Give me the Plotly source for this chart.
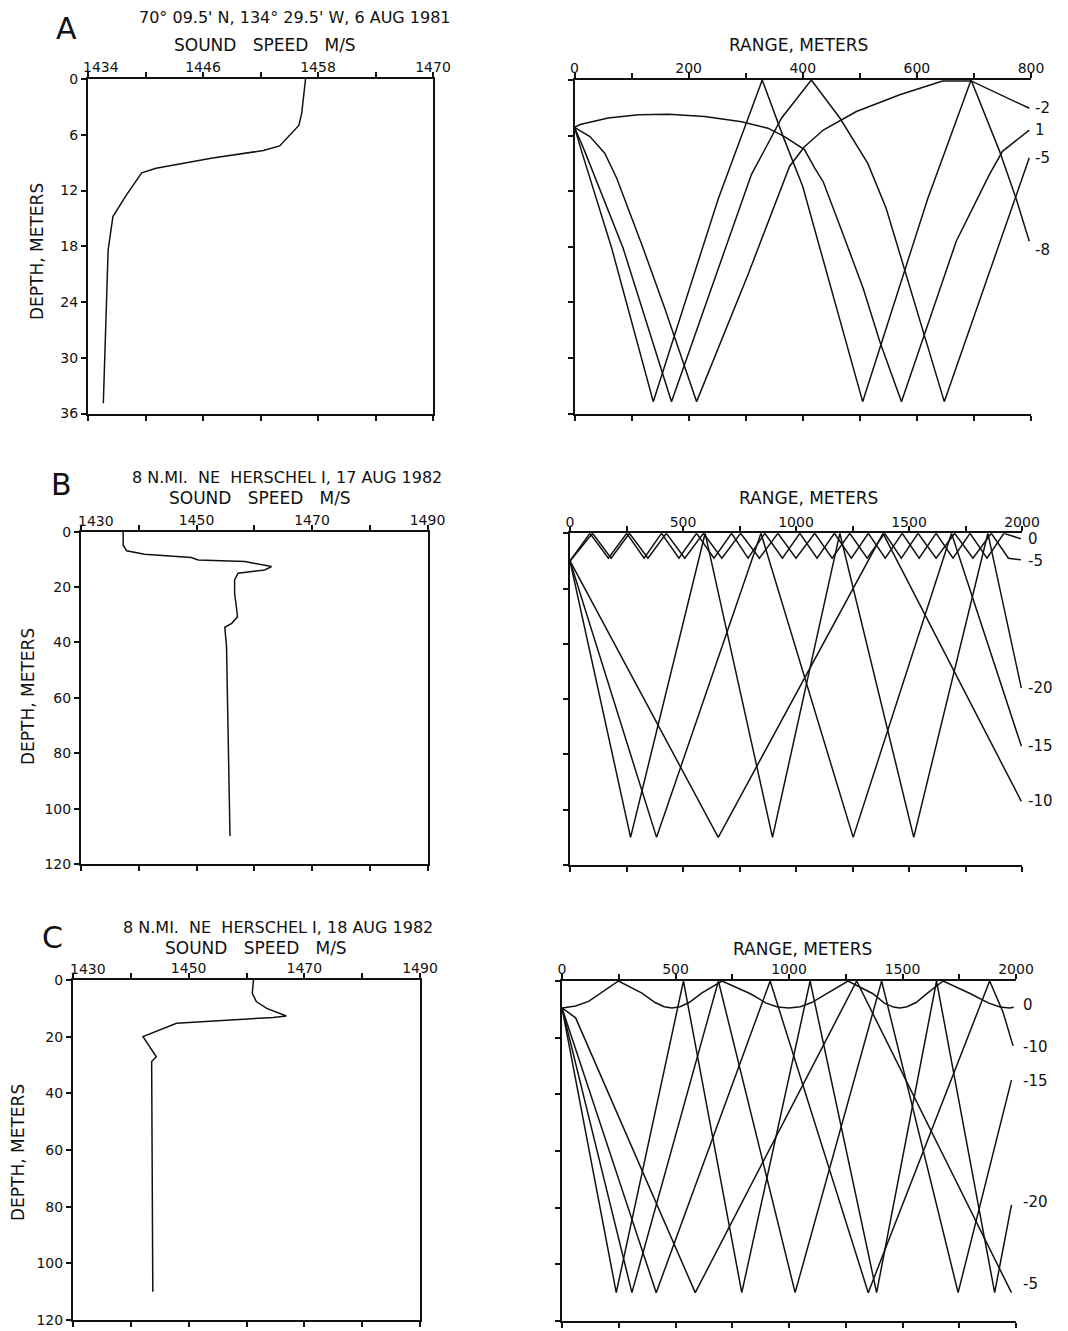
import plotly.graph_objects as go

W, H = 1068, 1331

# ---------------- Panel A : 70 09.5'N, 6 AUG 1981 ----------------
A_speed = [1456.7, 1456.3, 1456.0, 1454.0, 1452.3, 1447.0, 1441.1, 1439.6, 1438.0, 1436.6, 1436.1, 1435.6]
A_depth = [0, 3.7, 5.0, 7.2, 7.7, 8.5, 9.6, 10.1, 12.5, 14.8, 18.4, 34.9]
A_speed_ticks = [1434, 1440, 1446, 1452, 1458, 1464, 1470]
A_speed_text = ["", "", "1446", "", "1458", "", "1470"]
A_first_label = "1434"
A_depth_ticks = [0, 6, 12, 18, 24, 30, 36]
A_range_ticks = [0, 100, 200, 300, 400, 500, 600, 700, 800]
A_range_text = ["0", "", "200", "", "400", "", "600", "", "800"]

A_ray_p1_x = [0, 10, 59, 112, 165, 228, 293, 339, 368, 403, 421, 436, 471, 506, 535, 573, 669, 727, 750, 797]
A_ray_p1_d = [5.1, 4.8, 4.1, 3.76, 3.69, 3.95, 4.5, 5.2, 6.1, 7.5, 9.5, 11.0, 16.7, 22.5, 28.2, 34.7, 17.4, 10.2, 7.7, 5.4]
A_ray_m2_x = [0, 27, 53, 74, 120, 158, 214, 304, 377, 403, 436, 494, 570, 645, 695, 797]
A_ray_m2_d = [5.1, 6.1, 7.9, 10.6, 18.1, 24.6, 34.7, 21.0, 9.3, 7.2, 5.4, 3.4, 1.6, 0.1, 0.1, 3.05]
A_ray_m5_x = [0, 18, 85, 118, 170, 310, 363, 415, 465, 514, 546, 648, 797]
A_ray_m5_d = [5.1, 7.7, 18.1, 24.6, 34.7, 10.2, 4.1, 0, 4.1, 9.0, 13.8, 34.7, 8.4]
A_ray_m8_x = [0, 12.5, 65, 94, 138, 252, 293, 329, 365, 400, 505, 619, 660, 695, 745, 774, 797]
A_ray_m8_d = [5.1, 7.7, 18.1, 24.6, 34.7, 12.8, 5.9, 0, 6.0, 11.5, 34.7, 12.8, 5.9, 0, 7.7, 12.8, 17.4]
A_labels = ["-2", "1", "-5", "-8"]
A_label_depth = [3.0, 5.4, 8.4, 18.3]

# ---------------- Panel B : 17 AUG 1982 ----------------
B_speed = [1437.3, 1437.3, 1437.9, 1441.0, 1449.1, 1450.3, 1458.4, 1461.3, 1463.0, 1461.8, 1459.5,
           1457.2, 1456.6, 1456.6, 1456.9, 1457.1, 1456.1, 1454.9, 1455.2, 1455.8]
B_depth = [0, 4.8, 6.9, 8.1, 9.3, 10.2, 10.8, 12.0, 12.6, 13.8, 14.4,
           15.0, 17.4, 22.3, 27.1, 30.7, 33.1, 34.5, 41.5, 109.9]
SS_ticks = [1430, 1440, 1450, 1460, 1470, 1480, 1490]
SS_text = ["", "", "1450", "", "1470", "", "1490"]
SS_first_label = "1430"
D120_ticks = [0, 20, 40, 60, 80, 100, 120]
R2000_ticks = [0, 250, 500, 750, 1000, 1250, 1500, 1750, 2000]
R2000_text = ["0", "", "500", "", "1000", "", "1500", "", "2000"]

B_ray_0_x = [0, 88, 170, 251, 328, 405, 482, 560, 637, 715, 788, 862, 940, 1017, 1093, 1170,
             1245, 1320, 1395, 1470, 1545, 1620, 1695, 1770, 1845, 1920, 1995]
B_ray_0_d = [10, 0, 9, 0, 9, 0, 9, 0, 9, 0, 9, 0, 9, 0, 9, 0, 9, 0, 9, 0, 9, 0, 9, 0, 9, 0, 2]
B_ray_m5_x = [0, 100, 182, 263, 345, 426, 508, 590, 672, 755, 838, 920, 1000, 1083, 1160, 1238,
              1315, 1392, 1466, 1540, 1620, 1702, 1783, 1864, 1940, 1995]
B_ray_m5_d = [10, 0, 9, 0, 9, 0, 9, 0, 9, 0, 9, 0, 9, 0, 9, 0, 9, 0, 9, 0, 9, 0, 9, 0, 9, 9.6]
B_ray_m10_x = [0, 656, 1385, 1997]
B_ray_m10_d = [10, 110, 0, 97]
B_ray_m15_x = [0, 383, 845, 1253, 1688, 1997]
B_ray_m15_d = [10, 110, 0, 110, 0, 77]
B_ray_m20_x = [0, 268, 598, 896, 1194, 1521, 1849, 1997]
B_ray_m20_d = [10, 110, 0, 110, 0, 110, 0, 56]
B_labels = ["0", "-5", "-20", "-15", "-10"]
B_label_depth = [2.1, 10.0, 56, 77, 97]

# ---------------- Panel C : 18 AUG 1982 ----------------
C_speed = [1461.2, 1461.0, 1461.7, 1463.5, 1466.9, 1464.6, 1447.9, 1442.1, 1444.4, 1443.6, 1443.8]
C_depth = [0, 4.7, 7.6, 10.0, 12.7, 13.2, 15.3, 20.0, 27.1, 28.8, 110.0]

C_ray_0_x = [0, 60, 117, 185, 249, 352, 410, 450, 484, 520, 560, 615, 705, 830, 900, 950, 1000,
             1050, 1100, 1170, 1260, 1370, 1420, 1460, 1488, 1520, 1560, 1610, 1679, 1800, 1880, 1930, 1972, 1990]
C_ray_0_d = [9.5, 8.8, 7.2, 3.5, 0, 4.3, 7.6, 9.1, 9.5, 9.1, 7.6, 4.3, 0, 4.5, 7.8, 9.2, 9.5,
             9.1, 7.6, 4.3, 0, 4.5, 7.8, 9.2, 9.5, 9.1, 7.6, 4.3, 0, 4.5, 7.8, 9.2, 9.5, 9.3]
C_ray_m5_x = [0, 60, 587, 1298, 1980]
C_ray_m5_d = [9.5, 13, 110, 0, 110]
C_ray_m10_x = [0, 415, 917, 1349, 1884, 1943, 1987]
C_ray_m10_d = [9.5, 110, 0, 110, 0, 11, 22.9]
C_ray_m15_x = [0, 308, 689, 1027, 1408, 1745, 1980]
C_ray_m15_d = [9.5, 110, 0, 110, 0, 110, 35]
C_ray_m20_x = [0, 239, 535, 792, 1093, 1386, 1650, 1906, 1980]
C_ray_m20_d = [9.5, 110, 0, 110, 0, 110, 0, 110, 79]
C_labels = ["0", "-10", "-15", "-20", "-5"]
C_label_depth = [8.3, 23.4, 35.3, 78, 107]

# ---------------- layout (pixel boxes) ----------------
FONT = "DejaVu Sans"
BLACK = "#111111"

boxes = {
    1: ((88, 433), (79, 413.5)),
    2: ((574.5, 1031), (80, 413.7)),
    3: ((81, 427.5), (531.7, 864)),
    4: ((570, 1022), (533.3, 865)),
    5: ((73, 420), (980, 1320)),
    6: ((562, 1016), (981, 1321)),
}
xspec = {
    1: ([1434, 1470], A_speed_ticks, A_speed_text),
    2: ([0, 800], A_range_ticks, A_range_text),
    3: ([1430, 1490], SS_ticks, SS_text),
    4: ([0, 2000], R2000_ticks, R2000_text),
    5: ([1430, 1490], SS_ticks, SS_text),
    6: ([0, 2000], R2000_ticks, R2000_text),
}
yspec = {
    1: ([36, 0], A_depth_ticks, True),
    2: ([36, 0], A_depth_ticks, False),
    3: ([120, 0], D120_ticks, True),
    4: ([120, 0], D120_ticks, False),
    5: ([120, 0], D120_ticks, True),
    6: ([120, 0], D120_ticks, False),
}


def dom_x(a, b):
    return [a / W, b / W]


def dom_y(top, bottom):
    return [1 - bottom / H, 1 - top / H]


fig = go.Figure()


def add_line(xs, ys, n, width=1.5):
    sx = "" if n == 1 else str(n)
    fig.add_trace(go.Scatter(x=xs, y=ys, mode="lines", xaxis="x" + sx, yaxis="y" + sx,
                             showlegend=False, line=dict(color=BLACK, width=width),
                             hoverinfo="skip"))


add_line(A_speed, A_depth, 1)
for xs, ys in [(A_ray_p1_x, A_ray_p1_d), (A_ray_m2_x, A_ray_m2_d), (A_ray_m5_x, A_ray_m5_d),
               (A_ray_m8_x, A_ray_m8_d)]:
    add_line(xs, ys, 2)
add_line(B_speed, B_depth, 3)
for xs, ys in [(B_ray_0_x, B_ray_0_d), (B_ray_m5_x, B_ray_m5_d), (B_ray_m10_x, B_ray_m10_d),
               (B_ray_m15_x, B_ray_m15_d), (B_ray_m20_x, B_ray_m20_d)]:
    add_line(xs, ys, 4)
add_line(C_speed, C_depth, 5)
for xs, ys in [(C_ray_0_x, C_ray_0_d), (C_ray_m5_x, C_ray_m5_d), (C_ray_m10_x, C_ray_m10_d),
               (C_ray_m15_x, C_ray_m15_d), (C_ray_m20_x, C_ray_m20_d)]:
    add_line(xs, ys, 6)

tickfont = dict(family=FONT, size=14, color=BLACK)
axis_common = dict(showgrid=False, zeroline=False, showline=True, linecolor=BLACK, linewidth=2,
                   ticks="outside", ticklen=5, tickwidth=1.5, tickcolor=BLACK, tickfont=tickfont,
                   automargin=False)

lay = {}
for n in range(1, 7):
    sx = "" if n == 1 else str(n)
    (x0, x1), (y0, y1) = boxes[n]
    xr, xt, xtt = xspec[n]
    yr, yt, left_panel = yspec[n]
    lay["xaxis" + sx] = dict(axis_common, domain=dom_x(x0, x1), range=xr, side="top",
                             anchor="y" + sx, mirror="ticks", tickmode="array",
                             tickvals=xt, ticktext=xtt, ticklabelstandoff=-6)
    lay["yaxis" + sx] = dict(axis_common, domain=dom_y(y0, y1), range=yr, anchor="x" + sx,
                             mirror=True if left_panel else False, tickmode="array",
                             tickvals=yt, ticktext=[str(v) for v in yt],
                             showticklabels=left_panel)

ann = []


def ptext(text, px, py, size=16, angle=0, xanchor="center"):
    ann.append(dict(text=text, x=px / W, y=1 - py / H, xref="paper", yref="paper",
                    showarrow=False, xanchor=xanchor, yanchor="middle", textangle=angle,
                    font=dict(family=FONT, size=size, color=BLACK)))


# first sound-speed labels sit a little right of the corner, clear of the depth "0"
ptext(A_first_label, 101, 67, size=14)
ptext(SS_first_label, 96, 521, size=14)
ptext(SS_first_label, 88, 969, size=14)

# panel letters and titles
ptext("A", 66, 29, size=30)
ptext("70° 09.5' N, 134° 29.5' W, 6 AUG 1981", 295, 17, size=16)
ptext("SOUND   SPEED   M/S", 265, 45, size=17)
ptext("RANGE, METERS", 798, 45, size=17)
ptext("DEPTH, METERS", 37, 252, size=17, angle=-90)

ptext("B", 61, 484, size=30)
ptext("8 N.MI.  NE  HERSCHEL I, 17 AUG 1982", 287, 477, size=16)
ptext("SOUND   SPEED   M/S", 260, 498, size=17)
ptext("RANGE, METERS", 808, 498, size=17)
ptext("DEPTH, METERS", 28, 697, size=17, angle=-90)

ptext("C", 52, 937, size=30)
ptext("8 N.MI.  NE  HERSCHEL I, 18 AUG 1982", 278, 927, size=16)
ptext("SOUND   SPEED   M/S", 256, 948, size=17)
ptext("RANGE, METERS", 802, 949, size=17)
ptext("DEPTH, METERS", 18, 1153, size=17, angle=-90)


def depth_to_px(n, d):
    (x0, x1), (y0, y1) = boxes[n]
    yr = yspec[n][0]
    return y0 + (d - yr[1]) / (yr[0] - yr[1]) * (y1 - y0)


for t, d in zip(A_labels, A_label_depth):
    ptext(t, 1033, depth_to_px(2, d), size=15, xanchor="left")
for t, d in zip(B_labels, B_label_depth):
    ptext(t, 1026, depth_to_px(4, d), size=15, xanchor="left")
for t, d in zip(C_labels, C_label_depth):
    ptext(t, 1021, depth_to_px(6, d), size=15, xanchor="left")

fig.update_layout(width=W, height=H, autosize=False,
                  margin=dict(l=0, r=0, t=0, b=0, pad=0, autoexpand=False),
                  paper_bgcolor="white", plot_bgcolor="white", annotations=ann, **lay)

fig.write_html("out.html")
